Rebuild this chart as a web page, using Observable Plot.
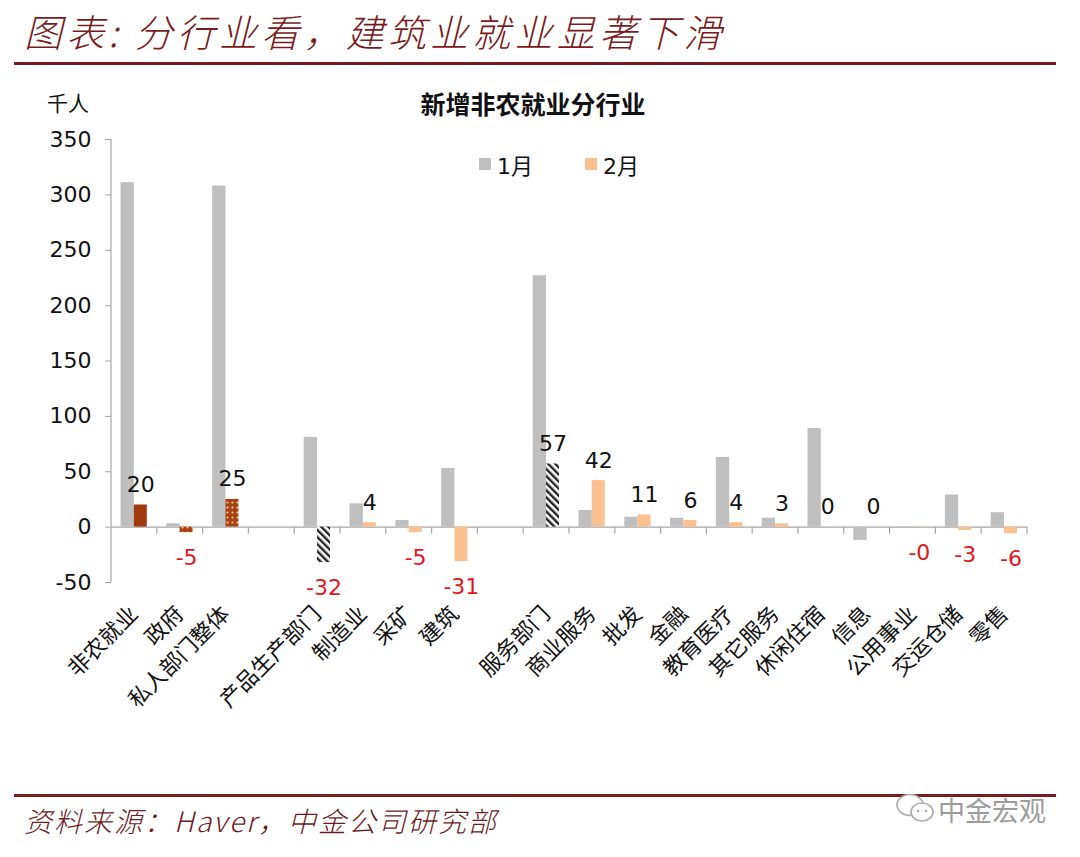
<!DOCTYPE html>
<html><head><meta charset="utf-8">
<script src="https://cdn.jsdelivr.net/npm/d3@7"></script>
<script src="https://cdn.jsdelivr.net/npm/@observablehq/plot@0.6"></script>
<style>
body{margin:0;background:#fff;}
#wrap{position:relative;width:1080px;height:857px;overflow:hidden;background:#fff;font-family:"DejaVu Sans","Noto Sans CJK SC",sans-serif;}
#chart{position:absolute;left:0;top:80px;}
.abs{position:absolute;white-space:nowrap;z-index:2;}
.title{left:24px;top:3px;font-family:"Noto Sans CJK SC",sans-serif;font-size:38px;font-weight:300;letter-spacing:4.2px;font-style:italic;color:#7A1B22;}
.hline{left:14px;width:1042px;height:3px;background:#7A1B22;}
.ctitle{left:533px;top:85px;transform:translateX(-50%);font-family:"Noto Sans CJK SC",sans-serif;font-weight:bold;font-size:25px;color:#111;}
.unit{left:47px;top:87px;font-family:"Noto Sans CJK SC",sans-serif;font-size:21px;color:#111;}
.legend{left:479px;top:148px;font-size:22px;color:#111;display:flex;align-items:center;}
.sw{display:inline-block;width:12px;height:12px;margin-right:6px;}
.foot{left:24px;top:800px;font-family:"Noto Sans CJK SC",sans-serif;font-size:28px;font-weight:300;letter-spacing:2px;font-style:italic;color:#6E1A1F;}
.wm{left:938px;top:790px;font-family:"Noto Sans CJK SC",sans-serif;font-size:27px;color:#9C9C9C;}
.wmicon{left:895px;top:792px;}
</style>
</head><body>
<div id="wrap">
  <div class="abs title">图表: 分行业看，建筑业就业显著下滑</div>
  <div class="abs hline" style="top:62px"></div>
  <div class="abs ctitle">新增非农就业分行业</div>
  <div class="abs unit">千人</div>
  <div class="abs legend"><span class="sw" style="background:#BFBFBF"></span><span>1月</span><span class="sw" style="background:#FAC090;margin-left:52px"></span><span>2月</span></div>
  <div id="chart"></div>
  <div class="abs hline" style="top:794px"></div>
  <div class="abs foot">资料来源：Haver，中金公司研究部</div>
  <svg class="abs wmicon" width="42" height="34" viewBox="0 0 42 34"><ellipse cx="15" cy="13" rx="13" ry="10.5" fill="#fff" stroke="#AAA" stroke-width="1.6"/><ellipse cx="27" cy="20" rx="11" ry="9" fill="#fff" stroke="#AAA" stroke-width="1.6"/><circle cx="23" cy="19" r="1.3" fill="#AAA"/><circle cx="31" cy="19" r="1.3" fill="#AAA"/></svg>
  <div class="abs wm">中金宏观</div>
</div>
<script>
// ---- data ----
const categories = ["非农就业","政府","私人部门整体"," ","产品生产部门","制造业","采矿","建筑","  ","服务部门","商业服务","批发","金融","教育医疗","其它服务","休闲住宿","信息","公用事业","交运仓储","零售"];
const janValues = [311, 3, 308, null, 81, 21, 6, 53, null, 227, 15, 9, 8, 63, 8, 89, -12, 0.5, 29, 13];
const febValues = [20, -5, 25, null, -32, 4, -5, -31, null, 57, 42, 11, 6, 4, 3, 0, 0, -0.3, -3, -6];
const yTicks = [-50, 0, 50, 100, 150, 200, 250, 300, 350];
const seriesNames = ["1月", "2月"];

// ---- styles ----
const febFillByCategory = {"非农就业": "#A23A0E", "政府": "url(#dots)", "私人部门整体": "url(#dots)", "产品生产部门": "url(#hatch)", "服务部门": "url(#hatch)"};
const febDefaultFill = "#FAC090";
const janFill = "#BFBFBF";

const rows = categories.map((c, i) => ({cat: c, jan: janValues[i], feb: febValues[i]})).filter(d => d.jan !== null);
const fmt = v => v < 0 ? "-" + Math.abs(Math.round(v)) : String(Math.round(v));

const plot = Plot.plot({
  width: 1080, height: 700,
  marginLeft: 111, marginRight: 53, marginTop: 59, marginBottom: 198,
  style: {fontFamily: '"DejaVu Sans","Noto Sans CJK SC",sans-serif', fontSize: "22px", color: "#111", background: "transparent", overflow: "visible"},
  x: {domain: categories, padding: 0, round: false, label: null, tickSize: 0, tickRotate: -45, tickPadding: 28, tickFormat: d => d.trim()},
  y: {domain: [-50, 350], ticks: yTicks, label: null, tickSize: 6, tickPadding: 14, tickFormat: d => String(d)},
  color: {type: "identity"},
  marks: [
    Plot.ruleY([0], {stroke: "#A6A6A6", strokeWidth: 1.2}),
    Plot.barY(rows, {x: "cat", y: "jan", fill: janFill, insetLeft: 9.5, insetRight: 23}),
    Plot.barY(rows, {x: "cat", y: "feb", fill: d => febFillByCategory[d.cat] || febDefaultFill, insetLeft: 22.8, insetRight: 10}),
    Plot.text(rows.filter(d => d.feb >= 0), {x: "cat", y: "feb", text: d => fmt(d.feb), dx: 6.4, dy: -20, fill: "#111", fontSize: 22}),
    Plot.text(rows.filter(d => d.feb < 0), {x: "cat", y: "feb", text: d => fmt(d.feb), dx: 6.4, dy: 25, fill: "#E3151E", fontSize: 22})
  ]
});
document.getElementById("chart").appendChild(plot);

// patterns + Excel-style category ticks and y axis line
const svg = d3.select(plot);
const defs = svg.insert("defs", ":first-child");
const dots = defs.append("pattern").attr("id", "dots").attr("patternUnits", "userSpaceOnUse").attr("width", 5).attr("height", 5);
dots.append("rect").attr("width", 5).attr("height", 5).attr("fill", "#A8400F");
dots.append("circle").attr("cx", 2.5).attr("cy", 2.5).attr("r", 1.1).attr("fill", "#F3CFA8");
const hatch = defs.append("pattern").attr("id", "hatch").attr("patternUnits", "userSpaceOnUse").attr("width", 5).attr("height", 5).attr("patternTransform", "rotate(-45)");
hatch.append("rect").attr("width", 5).attr("height", 5).attr("fill", "#fff");
hatch.append("rect").attr("width", 2.4).attr("height", 5).attr("fill", "#222");

const xs = plot.scale("x"), ys = plot.scale("y");
const y0 = ys.apply(0);
const g = svg.append("g").attr("stroke", "#A6A6A6").attr("stroke-width", 1.2);
const tickXs = categories.map(c => xs.apply(c)).concat([xs.range[1]]).slice(1);
tickXs.forEach(x => g.append("line").attr("x1", x).attr("x2", x).attr("y1", y0).attr("y2", y0 + 7));
g.append("line").attr("x1", xs.range[0]).attr("x2", xs.range[0]).attr("y1", ys.apply(350)).attr("y2", ys.apply(-50));
svg.selectAll("g[aria-label^='y-axis'] path, g[aria-label^='y-axis'] line").attr("stroke", "#A6A6A6");
</script>
</body></html>
